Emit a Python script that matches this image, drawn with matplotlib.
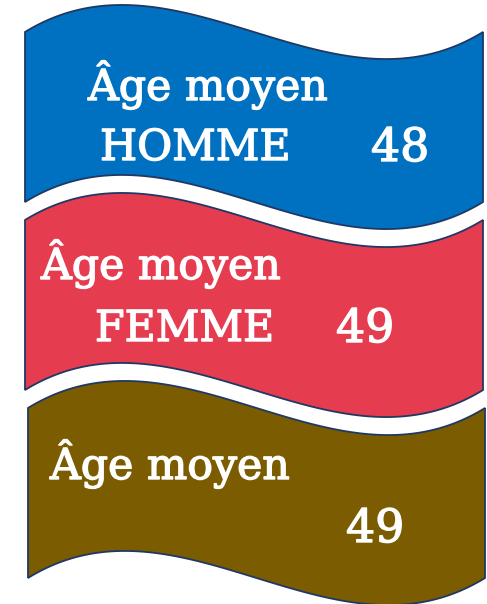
import numpy as np
import matplotlib
matplotlib.use("Agg")
import matplotlib.pyplot as plt
from matplotlib.patches import Polygon
import matplotlib.patheffects as pe

# ---- data ----
labels_line1 = ["Âge moyen", "Âge moyen", "Âge moyen"]
labels_line2 = ["HOMME", "FEMME", ""]
values = ["48", "49", "49"]
colors = ["#0070C0", "#E63C50", "#7B5C00"]

# ---- layout (pixel coordinates) ----
W, H = 487, 604
fig = plt.figure(figsize=(W / 100, H / 100), dpi=100)
ax = fig.add_axes([0, 0, 1, 1])
ax.set_xlim(0, W)
ax.set_ylim(H, 0)
ax.axis("off")

banner_x = [(25, 483), (25, 483), (28, 485)]
banner_top = [32, 220, 408]
banner_h = 170
wave = 281  # 3*h of cubic bezier wave

line1_pos = [(88, 100), (41, 279), (50, 479)]
line2_pos = [(100, 160), (95, 341), (0, 0)]
value_pos = [(371, 161), (336, 342), (346, 542)]

edge = "#1F3864"
font = "DejaVu Serif"
fs = 30.7
fs_val = 33
eff = [pe.withStroke(linewidth=1.0, foreground="white")]

for i in range(3):
    xl, xr = banner_x[i]
    t = np.linspace(0, 1, 400)
    x = xl + t * (xr - xl)
    off = wave * t * (1 - t) * (1 - 2 * t)
    top = banner_top[i] - off
    bot = banner_top[i] + banner_h - off
    pts = np.concatenate([np.column_stack([x, top]),
                          np.column_stack([x[::-1], bot[::-1]])])
    ax.add_patch(Polygon(pts, closed=True, facecolor=colors[i],
                         edgecolor=edge, linewidth=1.3, joinstyle="miter"))
    ax.text(*line1_pos[i], labels_line1[i], color="white", fontsize=fs,
            family=font, ha="left", va="baseline", path_effects=eff)
    if labels_line2[i]:
        ax.text(*line2_pos[i], labels_line2[i], color="white", fontsize=fs,
                family=font, ha="left", va="baseline", path_effects=eff)
    ax.text(*value_pos[i], values[i], color="white", fontsize=fs_val,
            family=font, ha="left", va="baseline", path_effects=eff)

fig.savefig("out.png", dpi=100)
